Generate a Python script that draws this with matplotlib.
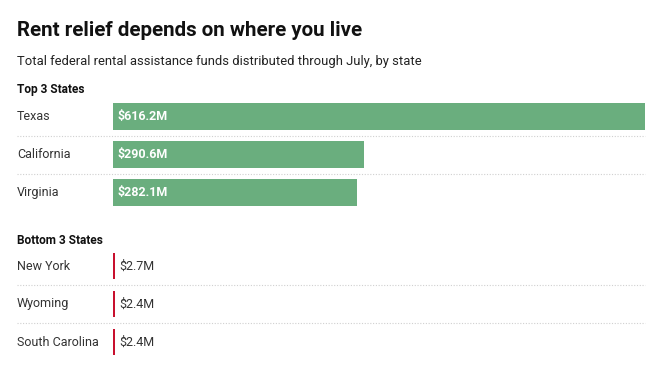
import matplotlib.pyplot as plt
from matplotlib import transforms

plt.rcParams['font.family'] = ['Roboto', 'DejaVu Sans']

# data
top_states = ["Texas", "California", "Virginia"]
top_values = [616.2, 290.6, 282.1]
bottom_states = ["New York", "Wyoming", "South Carolina"]
bottom_values = [2.7, 2.4, 2.4]

GREEN = "#6aae7e"
RED = "#c8102e"
GRID = "#d0d0d0"
TEXT = "#333333"

W, H = 662, 373
fig = plt.figure(figsize=(W / 100, H / 100), dpi=100)


def px_axes(left, top, right, bottom):
    return fig.add_axes([left / W, 1 - bottom / H, (right - left) / W, (bottom - top) / H])


def draw_group(ax, states, values, color, inside):
    xmax = max(top_values)
    rows = list(range(len(states)))
    height = 0.71 if inside else 0.68
    ax.barh(rows, values, height=height, color=color, left=0)
    ax.set_xlim(0, xmax)
    ax.set_ylim(len(states) - 0.5, -0.5)
    ax.axis("off")
    trans = transforms.blended_transform_factory(fig.transFigure, ax.transData)
    left_frac = (17 - 113) / (645 - 113)
    for r, (s, v) in enumerate(zip(states, values)):
        ax.text(17 / W, r, s, transform=trans, ha="left", va="center",
                fontsize=9, color=TEXT)
        if inside:
            ax.annotate(f"${v}M", (0, r), xytext=(3, 0), textcoords="offset points",
                        ha="left", va="center", fontsize=9, color="white",
                        fontweight="bold")
        else:
            ax.annotate(f"${v}M", (v, r), xytext=(3, 0), textcoords="offset points",
                        ha="left", va="center", fontsize=9, color=TEXT)
        if r < len(states) - 1:
            ax.axhline(r + 0.5, xmin=left_frac, xmax=1, clip_on=False,
                       color=GRID, lw=0.8, ls=(0, (1, 1.5)))


ax_top = px_axes(113, 97.5, 645, 211.5)
draw_group(ax_top, top_states, top_values, GREEN, inside=True)

ax_bot = px_axes(113, 247, 645, 361)
draw_group(ax_bot, bottom_states, bottom_values, RED, inside=False)

fig.text(17 / W, 1 - 30 / H, "Rent relief depends on where you live",
         fontsize=14.8, fontweight="bold", color="#111111", ha="left", va="center")
fig.text(17 / W, 1 - 61 / H,
         "Total federal rental assistance funds distributed through July, by state",
         fontsize=9.4, color="#222222", ha="left", va="center")
fig.text(17 / W, 1 - 89 / H, "Top 3 States", fontsize=8.6,
         fontweight="bold", color="#111111", ha="left", va="center")
fig.text(17 / W, 1 - 240 / H, "Bottom 3 States", fontsize=8.6,
         fontweight="bold", color="#111111", ha="left", va="center")

fig.savefig("out.png", dpi=100, facecolor="white")
